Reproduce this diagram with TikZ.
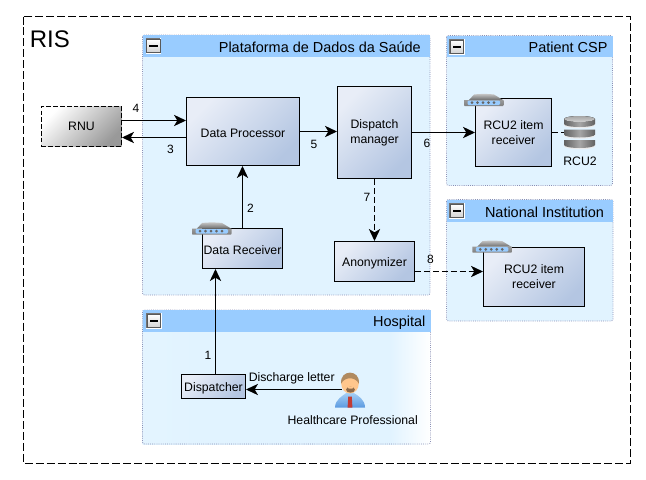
\documentclass[tikz,border=0pt]{standalone}
\usepackage{fontspec}
\setmainfont{Liberation Sans}
\usetikzlibrary{arrows.meta}
\definecolor{laneblue}{HTML}{E1F3FF}
\definecolor{headblue}{HTML}{99CCFF}
\definecolor{laneline}{HTML}{8A8FB5}
\definecolor{boxlight}{HTML}{E8EDF7}
\definecolor{boxdark}{HTML}{B4C6E2}
\definecolor{skin}{HTML}{FFC68C}
\definecolor{hair}{HTML}{B08A60}
\definecolor{beard}{HTML}{8C6A4A}
\definecolor{shirtlight}{HTML}{A6D0F5}
\definecolor{shirtdark}{HTML}{5C9AE0}
\definecolor{tie}{HTML}{C23B33}
\pgfdeclarehorizontalshading{lanefade}{100bp}{color(0bp)=(laneblue!70!white); color(35bp)=(laneblue); color(68bp)=(laneblue); color(75bp)=(white); color(100bp)=(white)}
\tikzset{
    lab/.style={font=\fontsize{9}{11}\selectfont, inner sep=0pt},
    txt/.style={font=\fontsize{9.2}{11.25}\selectfont, align=center, inner sep=0pt},
    lanetitle/.style={font=\fontsize{10.85}{13}\selectfont, anchor=base east, inner sep=0pt},
    lane/.style={draw=laneline, line width=0.6pt, densely dotted, fill=laneblue, rounded corners=1.5pt},
    block/.style 2 args={draw=black, line width=0.8pt, top color=boxlight, bottom color=boxdark, shading angle=45,
        minimum width=#1*0.75pt, minimum height=#2*0.75pt, txt, execute at begin node={\rule{0pt}{8.8pt}}},
    conn/.style={-{Stealth[length=9pt,width=8.5pt,inset=2.5pt]}, line width=0.8pt},
    dashconn/.style={conn, dash pattern=on 4.5pt off 2.2pt},
    pics/lanebutton/.style={code={
        \fill[white] (0,0) rectangle (15.5,15.5);
        \fill[black!55] (0,0) rectangle (14.5,14.5);
        \fill[white] (0.8,0.8) rectangle (15.5,15.5);
        \draw[black!65, line width=0.5pt, top color=white, bottom color=black!18] (1,1) rectangle (14.5,14.5);
        \fill[black] (3.5,7) rectangle (12,9);
    }},
    pics/router/.style={code={
        \path[top color=black!22, bottom color=black!58] (5,6) -- (10,0.5) .. controls (16,-0.3) and (24,-0.3) .. (30,0.5) -- (39,6) -- cycle;
        \path[top color=black!40, bottom color=black!50] (0,6) -- (39.5,6) -- (39.5,11) -- (39,12) -- (0.5,12) -- (0,11) -- cycle;
        \fill[rounded corners=0.8pt, fill=headblue] (3.5,6.5) rectangle (36,11);
        \foreach \x in {8,13.5,19,24.5,30} {
            \fill[black!60] (\x,8.7) circle (1.5);
        }
    }},
    pics/dbstack/.style={code={
        \foreach \y in {21,10.5,0} {
            \fill[black!8] (0,\y+4) -- (0,\y+9.2) arc[start angle=180, end angle=0, x radius=15.5, y radius=3] -- (31,\y+4) -- cycle;
            \path[left color=black!62, right color=black!62, middle color=black!35]
                (0,\y+3) -- (0,\y+8) arc[start angle=180, end angle=0, x radius=15.5, y radius=3] -- (31,\y+3) -- cycle;
        }
        \fill[top color=black!35, bottom color=black!18] (15.5,3) ellipse (15.5 and 3);
    }},
    pics/doctor/.style={code={
        % body
        \path[top color=shirtlight, bottom color=shirtdark]
            (0,35) .. controls (0,27) and (8,23) .. (12,20) -- (18,20) .. controls (23,23) and (30,27) .. (30,35) -- cycle;
        \fill[tie] (13.2,24) -- (16.8,24) -- (17.4,35) -- (12.6,35) -- cycle;
        % head
        \fill[skin] (15,11) ellipse (8.8 and 10);
        \fill[hair] (6.2,11) .. controls (4.5,-3.5) and (25.5,-3.5) .. (23.8,11) .. controls (20,4) and (10,4) .. (6.2,11) -- cycle;
        \fill[beard] (15.5,17.2) ellipse (4.4 and 3);
        \fill[skin] (15.5,15.2) ellipse (3 and 1);
    }}
}

\begin{document}
\begin{tikzpicture}[x=0.75pt,y=-0.75pt, line cap=butt, line join=miter]

\useasboundingbox (0,0) rectangle (646,479);

% RIS
\draw[line width=0.8pt, dash pattern=on 6pt off 2.2pt] (23.5,16.5) rectangle (630.5,463.5);
\node[font=\fontsize{18}{20}\selectfont, anchor=base west, inner sep=0pt] (ris) at (29.5,47.5) {RIS};

% lanes
\draw[lane] (142.5,35) rectangle (430,295);
\draw[lane] (446.5,35.5) rectangle (612.5,185.5);
\draw[lane] (446.5,199.5) rectangle (613,321);
\path[shading=lanefade] (142.5,310) rectangle (430.5,444);
\draw[lane, fill=none] (142.5,310) rectangle (430.5,444);

\fill[headblue] (142.5,35) rectangle (430,57);
\fill[headblue] (446.5,35.5) rectangle (612.5,57);
\fill[headblue] (446.5,199.5) rectangle (613,221.5);
\fill[headblue] (142.5,310) rectangle (430.5,332);

\foreach \x/\y in {145.7/38.3,449.3/39.3,449.3/203.3,146/313.3} {
  \pic at (\x,\y) {lanebutton};
}

\node[lanetitle] (titleplat) at (421,52) {Plataforma de Dados da Saúde};
\node[lanetitle] (titlecsp) at (607.7,52.5) {Patient CSP};
\node[lanetitle] (titlenat) at (604.3,217) {National Institution};
\node[lanetitle] (titlehosp) at (425.7,326.5) {Hospital};

% boxes
\node[txt, draw=black, line width=0.8pt, dash pattern=on 3.5pt off 1.6pt, top color=white, bottom color=black!40, shading angle=45,
  minimum width=80*0.75pt, minimum height=40*0.75pt] (rnu) at (81.5,126.5) {RNU};
\node[block={113}{68}] (processor) at (243,131.5) {Data Processor};
\node[block={74}{92}] (dispatch) at (374.5,132.5) {Dispatch\\manager};
\node[block={80}{40}] (datarecv) at (242.5,248.5) {Data Receiver};
\node[block={80}{40}] (anon) at (374.5,261.5) {Anonymizer};
\node[block={64}{24}] (dispatcher) at (213.5,386.5) {Dispatcher};
\node[block={76}{68}] (rcuone) at (513.5,132.5) {RCU2 item\\receiver};
\node[block={101}{59}] (rcutwo) at (534,277) {RCU2 item\\receiver};

% icons
\pic at (192,222.5) {router};
\pic at (464,94) {router};
\pic at (472.3,240.7) {router};
\pic at (564,116) {dbstack};
\pic at (335,372.5) {doctor};

\coordinate (dbin) at (564,132.5);
\coordinate (rnuin) at (122,137.5);
\coordinate (rnuout) at (122,120.5);
\coordinate (letterout) at (342,389.5);
\coordinate (line1) at (215.5,340);
\coordinate (line8) at (420,271.5);

% connectors
\draw[conn] (rnu.east |- rnuout) -- (processor.west |- rnuout);
\draw[conn] (processor.west |- rnuin) -- (rnu.east |- rnuin);
\draw[conn] (processor.east) -- (dispatch.west |- processor.east);
\draw[conn] (dispatch.east) -- (rcuone.west);
\draw[line width=0.8pt, dash pattern=on 4.5pt off 2.2pt] (rcuone.east) -- (dbin);
\draw[dashconn] (dispatch.south) -- (anon.north);
\draw[dashconn] (anon.east |- line8) -- (rcutwo.west |- line8);
\draw[conn] (datarecv.north) -- (datarecv.north |- processor.south);
\draw[conn] (dispatcher.north -| line1) -- (datarecv.south -| line1);
\draw[conn] (letterout) -- (dispatcher.east |- letterout);

% labels
\node[lab] (lfour) at (136,108.5) {4};
\node[lab] (lthree) at (170.5,149.5) {3};
\node[lab] (lfive) at (314,144) {5};
\node[lab] (lsix) at (427,143.5) {6};
\node[lab] (lseven) at (367,197.5) {7};
\node[lab] (leight) at (430.5,259.5) {8};
\node[lab] (ltwo) at (250.5,208.5) {2};
\node[lab] (lone) at (208,355.5) {1};
\node[txt] (letter) at (291.7,378.5) {Discharge letter};
\node[txt] (hcp) at (352.7,420.5) {Healthcare Professional};
\node[txt] (rcudb) at (580,161.5) {RCU2};

\end{tikzpicture}
\end{document}
